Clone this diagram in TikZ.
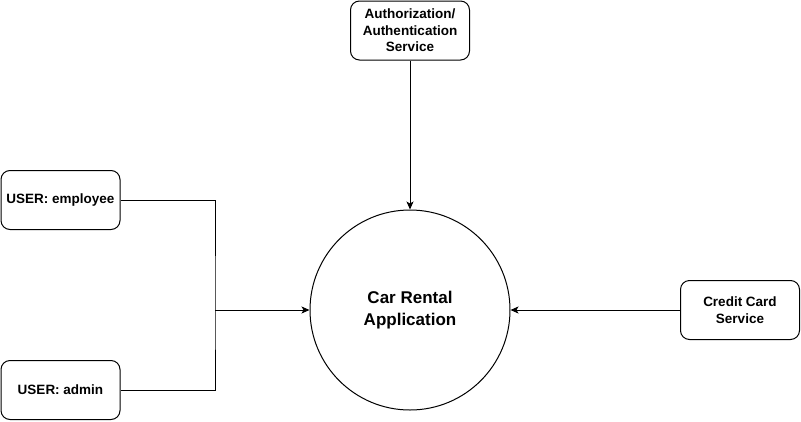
\documentclass[tikz,border=0pt]{standalone}
\usepackage{fontspec}
\setmainfont{Liberation Sans}
\usetikzlibrary{arrows.meta}
\begin{document}
\begin{tikzpicture}[x=1pt,y=-1pt,
  box/.style={draw, line width=1pt, rounded corners=9pt, minimum width=119pt, minimum height=59pt, align=center, inner sep=0pt, font=\fontsize{13.5}{16.5}\selectfont\bfseries},
  app/.style={draw, line width=1pt, circle, minimum size=200pt, inner sep=0pt, align=center, font=\fontsize{17}{22}\selectfont\bfseries},
  conn/.style={line width=1pt},
  arr/.style={line width=1pt, -{Stealth[length=8pt,width=7pt,inset=2pt]}}]
\useasboundingbox (0,0) rectangle (801,421);
\node[box] (auth) at (410,30.5) {Authorization/\\Authentication\\Service};
\node[box] (emp) at (60.5,200) {USER: employee};
\node[box] (adm) at (60.5,390) {USER: admin};
\node[box] (cc) at (740,310) {Credit Card\\Service};
\node[app] (app) at (410,310) {Car Rental\\Application};
\coordinate (j) at (215,310);
\draw[conn] (emp.east) -| (j) |- (adm.east);
\draw[arr] (j) -- (app.west);
\draw[arr] (auth.south) -- (app.north);
\draw[arr] (cc.west) -- (app.east);
\end{tikzpicture}
\end{document}
